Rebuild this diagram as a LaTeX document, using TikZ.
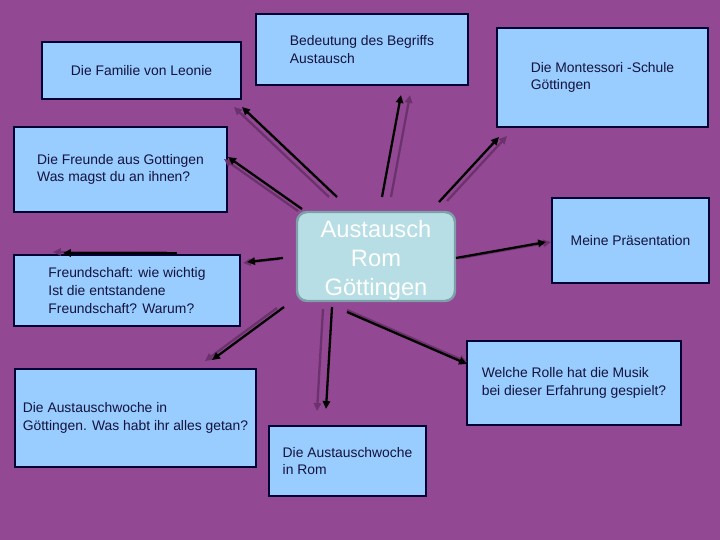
\documentclass[tikz,border=0pt]{standalone}
\usepackage{fontspec}
\setmainfont{Liberation Sans}
\usetikzlibrary{arrows.meta}
\definecolor{bgpurple}{RGB}{146,72,146}
\definecolor{boxblue}{RGB}{153,204,255}
\definecolor{boxline}{RGB}{0,0,51}
\definecolor{boxtext}{RGB}{20,20,60}
\definecolor{ctrfill}{RGB}{182,222,228}
\definecolor{ctrline}{RGB}{125,160,170}
\definecolor{shadowpurple}{RGB}{108,50,110}
\tikzset{
  box/.style={draw=boxline, fill=boxblue, line width=0.65pt, text=boxtext,
    align=left, inner sep=0pt, font=\fontsize{7.9pt}{10pt}\selectfont},
  ctrbox/.style={draw=ctrline, fill=ctrfill, line width=1.4pt, rounded corners=0.2cm,
    text=white, align=center, inner sep=0pt, font=\fontsize{13.5pt}{16.4pt}\selectfont},
  arr/.style={draw=black, line width=1.3pt, -{Triangle[length=4.5pt,width=4.2pt]}},
  sharr/.style={draw=shadowpurple, line width=1.3pt, -{Triangle[length=4.5pt,width=4.2pt]}}
}
\begin{document}
\begin{tikzpicture}[x=0.02cm,y=-0.02cm]
\fill[bgpurple] (0,0) rectangle (720,540);
\useasboundingbox (0,0) rectangle (720,540);

\node[box, minimum width=3.98cm, minimum height=1.14cm] (fam) at (141.5,70.5) {Die Familie von Leonie};
\node[box, minimum width=4.24cm, minimum height=1.42cm] (bed) at (362,49.5) {Bedeutung des Begriffs\\Austausch};
\node[box, minimum width=4.22cm, minimum height=1.98cm] (mon) at (602.5,77.5) {Die Montessori -Schule\\Göttingen};
\node[box, minimum width=4.26cm, minimum height=1.70cm] (fre) at (120.5,169.5) {Die Freunde aus Gottingen\\Was magst du an ihnen?};
\node[box, minimum width=4.52cm, minimum height=1.42cm] (fsch) at (127,290.5) {Freundschaft: wie wichtig\\Ist die entstandene\\Freundschaft? Warum?};
\node[ctrbox, minimum width=3.16cm, minimum height=1.78cm] (ctr) at (376,256.5) {\rule{0pt}{14.5pt}Austausch\\Rom\\Göttingen};
\node[box, minimum width=3.14cm, minimum height=1.70cm] (pra) at (630.5,240.5) {Meine Präsentation};
\node[box, minimum width=4.28cm, minimum height=1.68cm] (mus) at (574,383) {Welche Rolle hat die Musik\\bei dieser Erfahrung gespielt?};
\node[box, minimum width=4.82cm, minimum height=1.96cm] (gwo) at (135.5,418) {Die Austauschwoche in\\Göttingen. Was habt ihr alles getan?};
\node[box, minimum width=3.14cm, minimum height=1.40cm] (rom) at (347.5,461) {Die Austauschwoche\\in Rom};

% arrow end points
\coordinate (s1) at (337,197); \coordinate (t1) at (242,107);
\coordinate (s2) at (302,209); \coordinate (t2) at (228,157);
\coordinate (s3) at (382,197); \coordinate (t3) at (401,95);
\coordinate (s4) at (439,202); \coordinate (t4) at (499,137);
\coordinate (s5) at (456,258); \coordinate (t5) at (546,242);
\coordinate (s6) at (347,312); \coordinate (t6) at (467,364);
\coordinate (s7) at (332,307); \coordinate (t7) at (326,409);
\coordinate (s8) at (284,307); \coordinate (t8) at (212,360);
\coordinate (s9) at (283,258); \coordinate (t9) at (247,262);
\coordinate (s10) at (177,253); \coordinate (t10) at (63,253);

% shadows
\draw[sharr] ([shift={(-8,0)}]s1) -- ([shift={(-8,0)}]t1);
\draw[sharr] ([shift={(-4,2)}]s2) -- ([shift={(-4,2)}]t2);
\draw[sharr] ([shift={(9,0)}]s3) -- ([shift={(9,0)}]t3);
\draw[sharr] ([shift={(8,-1)}]s4) -- ([shift={(8,-1)}]t4);
\draw[sharr] ([shift={(5,0)}]s5) -- ([shift={(5,0)}]t5);
\draw[sharr] ([shift={(0,-2)}]s6) -- ([shift={(0,-2)}]t6);
\draw[sharr] ([shift={(-9,2)}]s7) -- ([shift={(-9,2)}]t7);
\draw[sharr] ([shift={(-7,1)}]s8) -- ([shift={(-7,1)}]t8);
\draw[sharr] ([shift={(-4,1)}]s9) -- ([shift={(-4,1)}]t9);
\draw[sharr] ([shift={(-10,-1)}]s10) -- ([shift={(-10,-1)}]t10);

% arrows
\draw[arr] (s1) -- (t1);
\draw[arr] (s2) -- (t2);
\draw[arr] (s3) -- (t3);
\draw[arr] (s4) -- (t4);
\draw[arr] (s5) -- (t5);
\draw[arr] (s6) -- (t6);
\draw[arr] (s7) -- (t7);
\draw[arr] (s8) -- (t8);
\draw[arr] (s9) -- (t9);
\draw[arr] (s10) -- (t10);
\end{tikzpicture}
\end{document}
